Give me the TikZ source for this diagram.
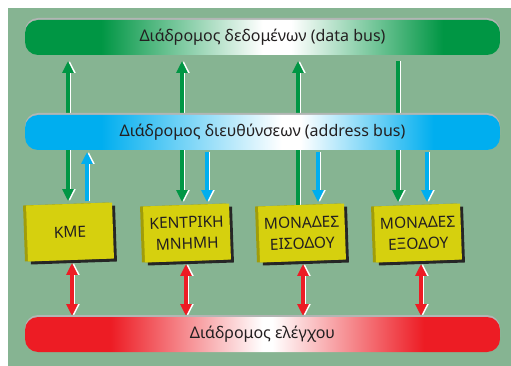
\documentclass[tikz,border=0pt]{standalone}
\usepackage{fontspec}
\setmainfont{Noto Sans}
\usetikzlibrary{arrows.meta,shadows}

\definecolor{backgreen}{RGB}{134,180,146}
\definecolor{datagreen}{RGB}{0,150,68}
\definecolor{addrcyan}{RGB}{0,174,239}
\definecolor{ctrlred}{RGB}{237,28,36}
\definecolor{boxyellow}{RGB}{214,208,14}
\definecolor{boxside}{RGB}{160,156,10}
\definecolor{rimgray}{RGB}{178,182,180}
\definecolor{textgray}{RGB}{35,31,32}

\pgfdeclarehorizontalshading{databus}{100bp}{color(0bp)=(datagreen); color(33bp)=(datagreen); color(50bp)=(white); color(53bp)=(white); color(69bp)=(datagreen); color(100bp)=(datagreen)}
\pgfdeclarehorizontalshading{addrbus}{100bp}{color(0bp)=(addrcyan); color(33bp)=(addrcyan); color(52bp)=(white); color(54bp)=(white); color(68bp)=(addrcyan); color(100bp)=(addrcyan)}
\pgfdeclarehorizontalshading{ctrlbus}{100bp}{color(0bp)=(ctrlred); color(34bp)=(ctrlred); color(50bp)=(white); color(51bp)=(white); color(67bp)=(ctrlred); color(100bp)=(ctrlred)}

\pgfdeclarelayer{back}
\pgfdeclarelayer{links}
\pgfsetlayers{back,links,main}

\tikzset{
  bustip/.tip={Triangle[length=12pt,width=11pt]},
  bus/.style={shade,minimum width=475pt,minimum height=35pt,rounded corners=13pt,
    font=\fontsize{16}{19}\selectfont,text=textgray,
    preaction={fill=rimgray,transform canvas={yshift=2pt}}},
  unitbox/.style={fill=boxyellow,minimum width=86pt,minimum height=56pt,align=center,
    rotate=2,inner sep=2pt,outer sep=3pt,text=textgray,font=\fontsize{15.5}{21}\selectfont,
    general shadow={fill=black!85,shadow xshift=3pt,shadow yshift=-3pt},
    general shadow={fill=boxside,shadow xshift=-3pt}},
  link/.style={line width=3.5pt,preaction={draw=white,transform canvas={xshift=1.8pt}}},
  datalink/.style={link,draw=datagreen},
  addrlink/.style={link,draw=addrcyan},
  ctrllink/.style={link,draw=ctrlred},
}

\begin{document}
\begin{tikzpicture}[x=1pt,y=-1pt]
\useasboundingbox (0,0) rectangle (511,366);
\begin{pgfonlayer}{back}
  \fill[backgreen] (8,8) rectangle (511,366);
\end{pgfonlayer}

% buses
\node[bus,shading=databus,outer ysep=6pt] (data) at (262.5,37.5) {Διάδρομος δεδομένων (data bus)};
\node[bus,shading=addrbus,outer ysep=2pt] (addr) at (262.5,132.5) {Διάδρομος διευθύνσεων (address bus)};
\node[bus,shading=ctrlbus,outer ysep=1pt] (ctrl) at (262.5,334.5) {Διάδρομος ελέγχου};

% units
\node[unitbox] (kme) at (70,232) {ΚΜΕ};
\node[unitbox] (memory) at (187,233) {ΚΕΝΤΡΙΚΗ\\ΜΝΗΜΗ};
\node[unitbox] (input) at (302,233) {ΜΟΝΑΔΕΣ\\ΕΙΣΟΔΟΥ};
\node[unitbox] (output) at (418,233) {ΜΟΝΑΔΕΣ\\ΕΞΟΔΟΥ};

% link positions
\coordinate (d1) at (68,0);  \coordinate (a1) at (87,0);  \coordinate (c1) at (72,0);
\coordinate (d2) at (182,0); \coordinate (a2) at (207,0); \coordinate (c2) at (186,0);
\coordinate (d3) at (298,0); \coordinate (a3) at (318,0); \coordinate (c3) at (303,0);
\coordinate (d4) at (398,0); \coordinate (a4) at (427,0); \coordinate (c4) at (421,0);

\begin{pgfonlayer}{links}
  % data bus
  \draw[datalink,bustip-bustip] (d1 |- data.south) -- (d1 |- kme.north);
  \draw[datalink,bustip-bustip] (d2 |- data.south) -- (d2 |- memory.north);
  \draw[datalink,bustip-] (d3 |- data.south) -- ([yshift=-3pt]d3 |- input.north);
  \draw[datalink,-bustip] (d4 |- data.south) -- (d4 |- output.north);
  % address bus
  \draw[addrlink,-bustip] (a1 |- kme.north) -- (a1 |- addr.south);
  \draw[addrlink,-bustip] (a2 |- addr.south) -- (a2 |- memory.north);
  \draw[addrlink,-bustip] (a3 |- addr.south) -- (a3 |- input.north);
  \draw[addrlink,-bustip] (a4 |- addr.south) -- (a4 |- output.north);
  % control bus
  \draw[ctrllink,bustip-bustip] (c1 |- kme.south) -- (c1 |- ctrl.north);
  \draw[ctrllink,bustip-bustip] (c2 |- memory.south) -- (c2 |- ctrl.north);
  \draw[ctrllink,bustip-bustip] (c3 |- input.south) -- (c3 |- ctrl.north);
  \draw[ctrllink,bustip-bustip] (c4 |- output.south) -- (c4 |- ctrl.north);
\end{pgfonlayer}
\end{tikzpicture}
\end{document}
